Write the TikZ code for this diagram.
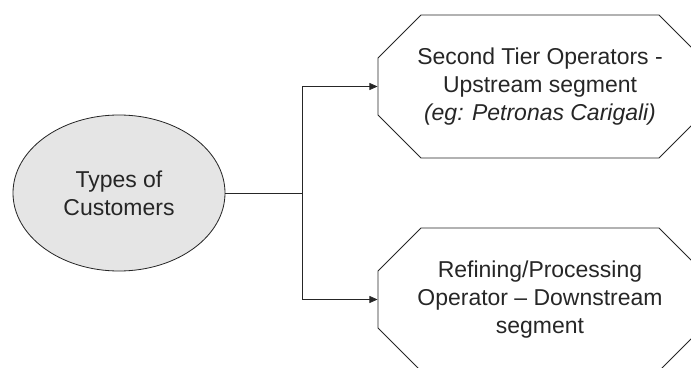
\documentclass[tikz,border=0pt]{standalone}
\usepackage{fontspec}
\setmainfont{Liberation Sans}
\usetikzlibrary{shapes.geometric,shapes.misc,arrows.meta}
\begin{document}
\begin{tikzpicture}[x=0.03cm, y=-0.03cm, line width=0.7pt,
	every node/.style={align=center, font=\fontsize{19.6}{24}\selectfont, text=black!85},
	customer/.style={ellipse, draw=black!85, fill=gray!20, minimum width=6.36cm, minimum height=4.68cm, inner sep=0pt},
	operator/.style={chamfered rectangle, chamfered rectangle xsep=1.26cm, draw=black!85, minimum width=9.72cm, minimum height=4.29cm, inner sep=0pt},
	arr/.style={-{Triangle[length=7pt, width=6pt]}}]
		\useasboundingbox (0, 0) rectangle (691, 368);
		\clip (0, 0) rectangle (691, 368);
		
		\node[customer] (cust) at (119, 193) {Types of\\Customers};
		\node[operator] (tier) at (540, 86.5) {Second Tier Operators -\\Upstream segment\\\textit{(eg: Petronas Carigali)}};
		\node[operator] (refine) at (540, 299.5) {Refining/Processing\\Operator -- Downstream\\segment};
		
		% branch
		\coordinate (split) at (302, 193);
		\draw[black!85] (cust.east) -- (split);
		\draw[arr, black!85] (split) |- (tier.west);
		\draw[arr, black!85] (split) |- (refine.west);
\end{tikzpicture}
\end{document}
